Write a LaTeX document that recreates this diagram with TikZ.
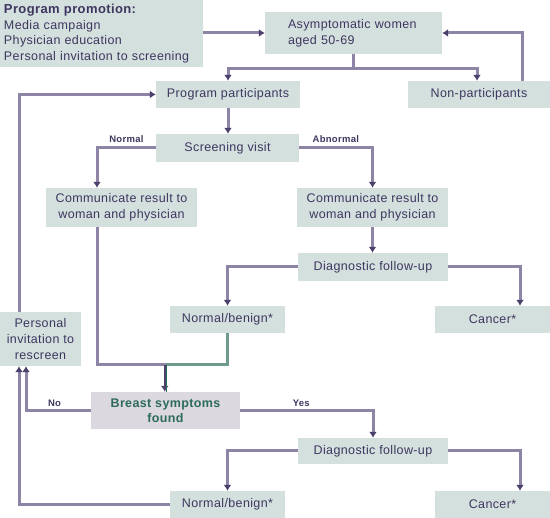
\documentclass[tikz,border=0pt]{standalone}
\usepackage{fontspec}
\setmainfont[LetterSpace=3]{Liberation Sans}
\usepackage{xcolor}
\usetikzlibrary{positioning, calc, arrows.meta}

\definecolor{boxfill}{HTML}{D3E0DD}
\definecolor{keyfill}{HTML}{DCD8E0}
\definecolor{ink}{HTML}{3E3660}
\definecolor{linecol}{HTML}{8E84A6}
\definecolor{tipcol}{HTML}{4B3F6B}
\definecolor{greenline}{HTML}{6E9A8B}
\definecolor{greenink}{HTML}{2B6B58}

\begin{document}
\begin{tikzpicture}[x=1pt, y=-1pt,
    box/.style={fill=boxfill, text=ink, inner sep=0pt, font=\fontsize{12.5}{16}\selectfont},
    keybox/.style={fill=keyfill, text=greenink, inner sep=0pt, font=\fontsize{12.5}{15}\selectfont\bfseries, align=center},
    flow/.style={draw=linecol, line width=3pt, -{Latex[length=6pt, width=8pt, color=tipcol]}},
    plain/.style={draw=linecol, line width=3pt},
    tag/.style={text=ink, font=\fontsize{9.5}{10}\selectfont\bfseries, inner sep=1pt}]
    % Frame
    \useasboundingbox (0,0) rectangle (550,518);

    % Top boxes
    \node[box, minimum width=203, minimum height=67, align=left, text width=195, font=\fontsize{12.5}{15.5}\selectfont] (promo) at (101.5,33.5)
        {{\fontsize{13}{15.5}\selectfont\bfseries Program promotion:}\\Media campaign\\Physician education\\Personal invitation to screening};
    \node[box, minimum width=177, minimum height=42, align=left, text width=131] (women) at (353.5,33)
        {Asymptomatic women\\aged 50-69};
    \node[box, minimum width=144, minimum height=27] (part) at (228,94.5) {Program participants};
    \node[box, minimum width=142, minimum height=27] (nonpart) at (479,94.5) {Non-participants};

    % Screening round
    \node[box, minimum width=143, minimum height=28] (visit) at (227.5,148) {Screening visit};
    \node[box, minimum width=151, minimum height=39, align=center] (commL) at (121.5,207.5)
        {Communicate result to\\woman and physician};
    \node[box, minimum width=151, minimum height=39, align=center] (commR) at (372.5,207.5)
        {Communicate result to\\woman and physician};
    \node[box, minimum width=150, minimum height=28] (diag1) at (373,267) {Diagnostic follow-up};
    \node[box, minimum width=115, minimum height=27] (nb1) at (227.5,319.5) {Normal/benign*};
    \node[box, minimum width=115, minimum height=27] (cancer1) at (492.5,319.5) {Cancer*};
    \node[box, minimum width=81, minimum height=54, align=center] (invite) at (40.5,339)
        {Personal\\invitation to\\rescreen};

    % Interval symptoms
    \node[keybox, minimum width=149, minimum height=37] (symptoms) at (165.5,410.5) {Breast symptoms\\found};
    \node[box, minimum width=150, minimum height=26] (diag2) at (373,451) {Diagnostic follow-up};
    \node[box, minimum width=115, minimum height=27] (nb2) at (227.5,504.5) {Normal/benign*};
    \node[box, minimum width=115, minimum height=27] (cancer2) at (492.5,504.5) {Cancer*};

    % Join point above symptoms box
    \coordinate (merge) at (symptoms.north |- 0,365);

    % Arrows
    \draw[flow] (promo.east |- women.west) -- (women.west);
    \draw[flow] (women.south) -- ++(0,14) -| (part.north);
    \draw[flow] (women.south) -- ++(0,14) -| ([xshift=-2]nonpart.north);
    \draw[flow] ([xshift=43]nonpart.north) |- (women.east);
    \draw[flow] (part.south) -- (part.south |- visit.north);
    \draw[flow] (visit.west) -| ([xshift=-24.5]commL.north) node[tag, pos=0.25, above=3pt] {Normal};
    \draw[flow] (visit.east) -| (commR.north) node[tag, pos=0.25, above=3pt] {Abnormal};
    \draw[flow] (commR.south) -- (commR.south |- diag1.north);
    \draw[flow] (diag1.west) -| (nb1.north);
    \draw[flow] (diag1.east) -| ([xshift=27.5]cancer1.north);

    % Results merge into symptoms check
    \draw[plain] ([xshift=-24.5]commL.south) |- (merge);
    \draw[draw=greenline, line width=3pt] (nb1.south) |- (merge);
    \draw[draw=tipcol, line width=1.5pt, -{Latex[length=6pt, width=8pt]}] ([xshift=-0.75]merge) -- ([xshift=-0.75]symptoms.north);
    \draw[draw=greenink, line width=1.5pt] ([xshift=0.75]merge) -- ([xshift=0.75]symptoms.north);

    \draw[flow] (symptoms.west) -| ([xshift=-14.5]invite.south) node[tag, pos=0.28, above=1pt] {No};
    \draw[flow] (symptoms.east) -| (diag2.north) node[tag, pos=0.23, above=1pt] {Yes};
    \draw[flow] (diag2.west) -| (nb2.north);
    \draw[flow] (diag2.east) -| ([xshift=27.5]cancer2.north);
    \draw[flow] (nb2.west) -| ([xshift=-21.5]invite.south);
    \draw[flow] ([xshift=-21.5]invite.north) |- (part.west);
\end{tikzpicture}
\end{document}
